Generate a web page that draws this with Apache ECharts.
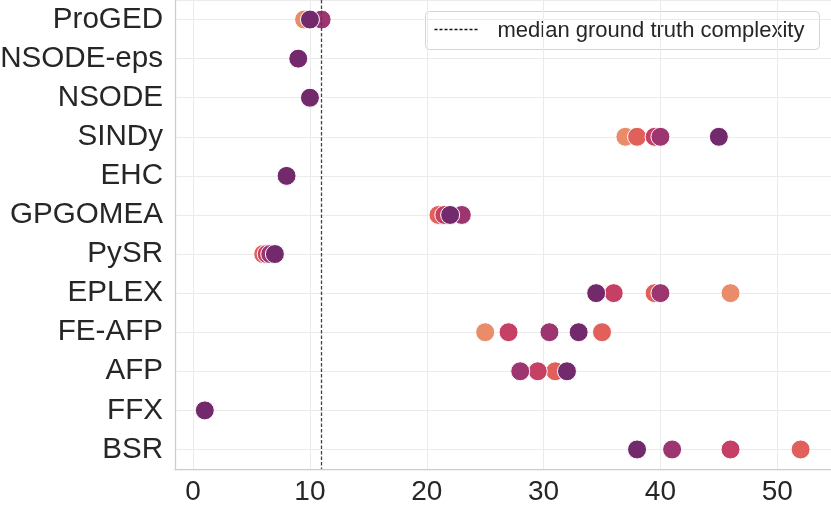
<!DOCTYPE html>
<html>
<head>
<meta charset="utf-8">
<script src="https://cdn.jsdelivr.net/npm/echarts@6/dist/echarts.min.js"></script>
<style>
html,body{margin:0;padding:0;background:#fff;}
#chart{width:831px;height:507px;}
</style>
</head>
<body>
<div id="chart"></div>
<script>
// Categories (top to bottom)
const categories = ['ProGED','NSODE-eps','NSODE','SINDy','EHC','GPGOMEA','PySR','EPLEX','FE-AFP','AFP','FFX','BSR'];
// X tick labels
const xTicks = [0, 10, 20, 30, 40, 50];
// Median ground truth complexity
const medianComplexity = 11;

// Hue groups (drawn in this order, light to dark); each: [category, value]
const groupNames = ['level 1','level 2','level 3','level 4','level 5'];
const groupColors = ['#EA8B69','#E2605B','#C63F64','#9D3571','#722A6D'];

const level1 = [['ProGED',9.5],['SINDy',37],['EPLEX',46],['FE-AFP',25]];
const level2 = [['SINDy',38],['GPGOMEA',21],['PySR',6],['EPLEX',39.5],['FE-AFP',35],['AFP',31],['BSR',52]];
const level3 = [['SINDy',39.5],['GPGOMEA',21.5],['PySR',6.3],['EPLEX',36],['FE-AFP',27],['AFP',29.5],['BSR',46]];
const level4 = [['ProGED',11],['SINDy',40],['GPGOMEA',23],['PySR',6.6],['EPLEX',40],['FE-AFP',30.5],['AFP',28],['BSR',41]];
const level5 = [['ProGED',10],['NSODE-eps',9],['NSODE',10],['SINDy',45],['EHC',8],['GPGOMEA',22],['PySR',7],['EPLEX',34.5],['FE-AFP',33],['AFP',32],['FFX',1],['BSR',38]];

const groups = [level1, level2, level3, level4, level5];

const FONT = 'Liberation Sans, Arial, Helvetica, sans-serif';

const series = groups.map((g, i) => ({
  name: groupNames[i],
  type: 'scatter',
  symbol: 'circle',
  symbolSize: 19,
  data: g.map(d => [d[1], categories.indexOf(d[0])]),
  itemStyle: { color: groupColors[i], borderColor: '#ffffff', borderWidth: 1, opacity: 1 },
  emphasis: { disabled: true },
  z: 3
}));

series.push({
  name: 'median ground truth complexity',
  type: 'scatter',
  data: [],
  silent: true,
  markLine: {
    silent: true,
    symbol: 'none',
    label: { show: false },
    lineStyle: { type: [3.5, 2], color: '#444444', width: 1.3 },
    data: [{ xAxis: medianComplexity }],
    animation: false
  },
  z: 2
});

const chart = echarts.init(document.getElementById('chart'), null, { renderer: 'canvas' });
chart.setOption({
  animation: false,
  backgroundColor: '#ffffff',
  grid: { left: 175, right: 0, top: 0, bottom: 38, containLabel: false, outerBoundsMode: 'none' },
  xAxis: {
    type: 'value',
    min: -1.55,
    max: 54.6,
    axisLine: { show: true, onZero: false, lineStyle: { color: '#cccccc', width: 1.25 } },
    axisTick: { show: false },
    splitLine: { show: true, lineStyle: { color: '#ebebeb', width: 1 } },
    axisLabel: {
      showMinLabel: false,
      showMaxLabel: false,
      fontSize: 28,
      fontFamily: FONT,
      color: '#262626',
      margin: 9,
      formatter: v => (xTicks.indexOf(v) >= 0 ? String(v) : '')
    }
  },
  yAxis: {
    type: 'value',
    inverse: true,
    min: -0.5,
    max: categories.length - 0.5,
    splitNumber: categories.length,
    axisLine: { show: true, onZero: false, lineStyle: { color: '#cccccc', width: 1.25 } },
    axisTick: { show: false },
    splitLine: { show: true, lineStyle: { color: '#ebebeb', width: 1 } },
    axisLabel: {
      showMinLabel: false,
      showMaxLabel: false,
      fontSize: 29.6,
      fontFamily: FONT,
      color: '#262626',
      margin: 12,
      formatter: v => (Number.isInteger(v) && categories[v] !== undefined ? categories[v] : '')
    }
  },
  series: series,
  graphic: [
    {
      type: 'group',
      left: 425,
      top: 11,
      z: 100,
      children: [
        { type: 'rect', shape: { x: 0, y: 0, width: 394, height: 38, r: 4 },
          style: { fill: '#ffffff', stroke: '#d4d4d4', lineWidth: 1 } },
        { type: 'line', shape: { x1: 9, y1: 18, x2: 53, y2: 18 },
          style: { stroke: '#111111', lineWidth: 1.3, lineDash: [3, 2] } },
        { type: 'text', x: 72, y: 19,
          style: { text: 'median ground truth complexity', fontSize: 22, fontFamily: FONT,
                   fill: '#262626', verticalAlign: 'middle', align: 'left' } }
      ]
    }
  ]
});
</script>
</body>
</html>
